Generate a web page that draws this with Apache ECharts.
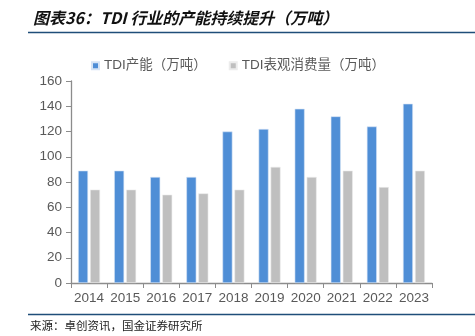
<!DOCTYPE html>
<html><head><meta charset="utf-8">
<script src="https://cdn.jsdelivr.net/npm/echarts@6/dist/echarts.min.js"></script>
<style>html,body{margin:0;padding:0;background:#fff}#c{width:475px;height:336px}</style>
</head><body><div id="c"></div>
<script>
const categories = ['2014','2015','2016','2017','2018','2019','2020','2021','2022','2023'];
const capacity = [89,89,84,84,120,122,138,132,124,142];
const consumption = [74,74,70,71,74,92,84,89,76,89];
const yTicks = {min:0,max:160,interval:20};
const seriesNames = ['TDI产能（万吨）','TDI表观消费量（万吨）'];

const chart = echarts.init(document.getElementById('c'));
const cjk = '"Noto Sans CJK SC", sans-serif';
const lat = 'Arial, "Liberation Sans", "Noto Sans CJK SC", sans-serif';
chart.setOption({
  animation:false,
  title:{text:'图表36：TDI 行业的产能持续提升（万吨）',left:28,top:5,
    textStyle:{fontFamily:cjk,fontSize:16,fontWeight:'bold',fontStyle:'italic',color:'#111'}},
  legend:{left:86,top:54,itemWidth:7,itemHeight:7,itemGap:22,icon:'rect',
    textStyle:{fontFamily:lat,fontSize:13.5,color:'#595959'},
    data:seriesNames},
  grid:{left:71,right:43,top:81,bottom:53},
  xAxis:{type:'category',data:categories,
    axisLine:{lineStyle:{color:'#8c8c8c',width:1.3}},
    axisTick:{show:true,length:5,lineStyle:{color:'#8c8c8c'}},
    axisLabel:{interval:0,fontFamily:lat,fontSize:13.5,color:'#595959',margin:9}},
  yAxis:{type:'value',min:yTicks.min,max:yTicks.max,interval:yTicks.interval,
    axisLine:{show:true,lineStyle:{color:'#8c8c8c',width:1.3}},
    axisTick:{show:true,length:5,lineStyle:{color:'#8c8c8c'}},
    splitLine:{show:false},
    axisLabel:{fontFamily:lat,fontSize:13.5,color:'#595959',margin:9}},
  series:[
    {name:seriesNames[0],type:'bar',data:capacity,barWidth:10,barGap:'20%',
      itemStyle:{color:'#4f8ed6',borderColor:'#d6e4f5',borderWidth:0.6}},
    {name:seriesNames[1],type:'bar',data:consumption,barWidth:10,
      itemStyle:{color:'#bfbfbf',borderColor:'#ececec',borderWidth:0.6}}
  ],
  graphic:[
    {type:'line',shape:{x1:28,y1:32.5,x2:475,y2:32.5},style:{stroke:'#1f4e79',lineWidth:1.3}},
    {type:'line',shape:{x1:28,y1:314.5,x2:475,y2:314.5},style:{stroke:'#1f4e79',lineWidth:1.3}},
    {type:'text',left:30,top:320,style:{text:'来源：卓创资讯，国金证券研究所',fontFamily:cjk,fontSize:11.5,fill:'#222'}}
  ]
});
</script></body></html>
